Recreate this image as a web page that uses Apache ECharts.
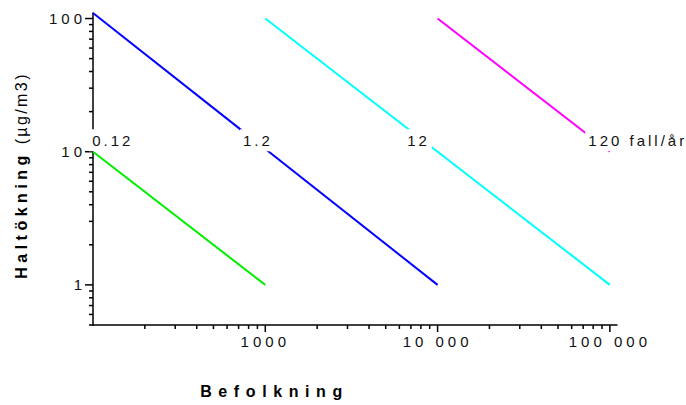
<!DOCTYPE html>
<html><head><meta charset="utf-8">
<script src="https://cdn.jsdelivr.net/npm/echarts@6/dist/echarts.min.js"></script>
<style>html,body{margin:0;padding:0;background:#fff}#c{width:686px;height:405px}</style>
</head><body><div id="c"></div>
<script>
// ---- data ----
const xRange = [100, 110000];
const yRange = [0.5, 110];
const greenLine = [[100, 10], [1000, 1]];
const blueLine = [[100, 110], [10000, 1]];
const cyanLine = [[1000, 100], [100000, 1]];
const magentaLine = [[10000, 100], [100000, 10]];
const lineLabels = ['0.12', '1.2', '12', '120 fall/år'];
const labelAnchorX = [95, 713, 6400, 72000];
const labelAnchorY = [12.2, 12.2, 12.2, 12.2];
const xMajorTicks = [1000, 10000, 100000];
const xTickLabels = ['1000', '10 000', '100 000'];
const xMinorTicks = [200, 300, 400, 500, 600, 700, 800, 900,
  2000, 3000, 4000, 5000, 6000, 7000, 8000, 9000,
  20000, 30000, 40000, 50000, 60000, 70000, 80000, 90000];
const yMajorTicks = [1, 10, 100];
const yTickLabels = ['1', '10', '100'];
const yMinorTicks = [0.5, 0.6, 0.7, 0.8, 0.9, 2, 3, 4, 5, 6, 7, 8, 9,
  20, 30, 40, 50, 60, 70, 80, 90];
const xTitle = 'Befolkning';
const yTitleMain = 'Haltökning';
const yTitleUnit = '(µg/m3)';

// ---- chart ----
const FONT = '"Liberation Sans", Arial, sans-serif';
const chart = echarts.init(document.getElementById('c'), null, {renderer: 'svg'});

function findLabel(v, ticks, labels) {
  const i = ticks.findIndex(t => Math.abs(t - v) / t < 1e-6);
  return i >= 0 ? labels[i] : '';
}

const xTickData = xMajorTicks.map(v => [v, yRange[0], 1]).concat(xMinorTicks.map(v => [v, yRange[0], 0]));
const yTickData = yMajorTicks.map(v => [xRange[0], v, 1]).concat(yMinorTicks.map(v => [xRange[0], v, 0]));

function lineSeries(data, color) {
  return {type: 'line', data: data, symbol: 'none', showSymbol: false, silent: true, z: 2,
    lineStyle: {color: color, width: 2}};
}

const option = {
  animation: false,
  backgroundColor: '#fff',
  grid: {left: 93, right: 69, top: 13, bottom: 80, containLabel: false},
  xAxis: {
    type: 'log', logBase: 10, min: xRange[0], max: xRange[1],
    axisLine: {show: true, onZero: false, lineStyle: {color: '#000', width: 1.5}},
    axisTick: {show: false}, splitLine: {show: false}, minorTick: {show: false},
    axisLabel: {margin: 9, fontSize: 15, fontFamily: FONT, color: '#111',
      formatter: v => findLabel(v, xMajorTicks, xTickLabels), showMinLabel: true, showMaxLabel: true},
    name: xTitle, nameLocation: 'middle', nameGap: 58,
    nameTextStyle: {fontWeight: 'bold', fontSize: 16, fontFamily: FONT, color: '#000', padding: [0, 161, 0, 0]}
  },
  yAxis: {
    type: 'log', logBase: 10, min: yRange[0], max: yRange[1],
    axisLine: {show: true, onZero: false, lineStyle: {color: '#000', width: 1.5}},
    axisTick: {show: false}, splitLine: {show: false}, minorTick: {show: false},
    axisLabel: {margin: 7, fontSize: 15, fontFamily: FONT, color: '#111',
      formatter: v => findLabel(v, yMajorTicks, yTickLabels)},
    name: '{b|' + yTitleMain + '}{r| ' + yTitleUnit + '}',
    nameLocation: 'middle', nameRotate: 90, nameGap: 64,
    nameTextStyle: {color: '#000', padding: [0, 0, 0, 0], rich: {
      b: {fontWeight: 'bold', fontSize: 16, fontFamily: FONT, color: '#000', padding: [0, 32, 0, 0]},
      r: {fontSize: 16, fontFamily: FONT, color: '#000'}
    }}
  },
  series: [
    lineSeries(greenLine, '#00ee00'),
    lineSeries(blueLine, '#0000ff'),
    lineSeries(cyanLine, '#00ffff'),
    lineSeries(magentaLine, '#ff00ff'),
    {
      type: 'custom', silent: true, z: 3, clip: false,
      data: xTickData, encode: {x: 0, y: 1},
      renderItem: function (params, api) {
        const p = api.coord([api.value(0), api.value(1)]);
        const len = api.value(2) ? 7 : 4;
        return {type: 'line', shape: {x1: p[0], y1: p[1], x2: p[0], y2: p[1] + len},
          style: {stroke: '#000', lineWidth: 1.5}};
      }
    },
    {
      type: 'custom', silent: true, z: 3, clip: false,
      data: yTickData, encode: {x: 0, y: 1},
      renderItem: function (params, api) {
        const p = api.coord([api.value(0), api.value(1)]);
        const len = api.value(2) ? 8 : 4;
        return {type: 'line', shape: {x1: p[0] - len, y1: p[1], x2: p[0], y2: p[1]},
          style: {stroke: '#000', lineWidth: 1.5}};
      }
    },
    {
      type: 'scatter', silent: true, z: 5, clip: false, symbolSize: 0,
      itemStyle: {opacity: 1},
      data: lineLabels.map((t, i) => ({value: [labelAnchorX[i], labelAnchorY[i]], name: t})),
      label: {show: true, position: 'right', distance: 0, formatter: p => p.name,
        fontSize: 15, fontFamily: FONT, color: '#111', backgroundColor: '#fff',
        padding: [3, 8, 3, 3], lineHeight: 16}
    }
  ]
};
chart.setOption(option);

function applySpacing() {
  document.querySelectorAll('#c text').forEach(t => {
    const s = t.textContent.trim();
    let ls = null;
    if (s === xTitle) ls = 6.6;
    else if (s === yTitleMain) ls = 4.5;
    else if (s === yTitleUnit) ls = 2.4;
    else if (lineLabels.includes(s)) ls = 3;
    else if (xTickLabels.includes(s) || yTickLabels.includes(s)) ls = 4;
    if (ls !== null) t.style.letterSpacing = ls + 'px';
  });
}
applySpacing();
chart.on('finished', applySpacing);
</script></body></html>
